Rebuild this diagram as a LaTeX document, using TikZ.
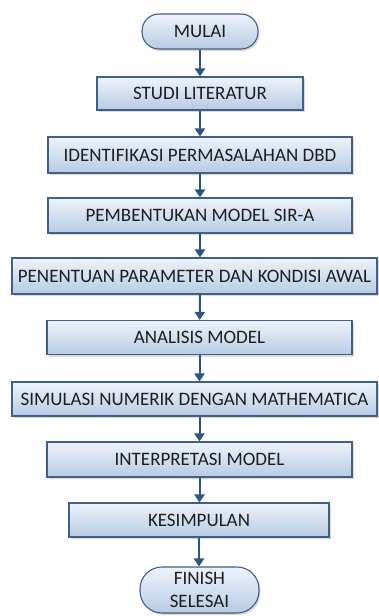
\documentclass[tikz,border=0pt]{standalone}
\usepackage{fontspec}
\setmainfont{Carlito}
\usepackage{tikz}
\usetikzlibrary{arrows.meta,shadows,positioning}
\definecolor{garis}{HTML}{425F86}
\definecolor{panah}{HTML}{2A5585}
\definecolor{atas}{HTML}{EEF3FA}
\definecolor{bawah}{HTML}{B7CBE3}
\definecolor{teks}{HTML}{1E1E1E}
\tikzset{%
	kotak/.style    = {draw=garis, line width=1.1pt, rectangle, top color=atas, bottom color=bawah, drop shadow={shadow xshift=1.5pt, shadow yshift=-2pt, opacity=0.25, fill=black!60}, text=teks, align=center, inner sep=0pt, font=\fontsize{19}{22}\selectfont},
	startstop/.style= {kotak, rounded corners=17pt},
	process/.style  = {kotak},
	arrow/.style    = {line width=2pt, draw=panah, -{Triangle[width=10pt,length=8pt]}},
}
\begin{document}
\begin{tikzpicture}[x=1pt,y=-1pt]
		\useasboundingbox (0,0) rectangle (379,616);
		\node[startstop, minimum width=116pt, minimum height=35pt] (mulai) at (200,31.5) {MULAI};
		\node[process, minimum width=206pt, minimum height=33pt] (studi) at (200,93.5) {STUDI LITERATUR};
		\node[process, minimum width=304pt, minimum height=36pt] (identifikasi) at (200,155) {IDENTIFIKASI PERMASALAHAN DBD};
		\node[process, minimum width=304pt, minimum height=35pt] (pembentukan) at (200,215.5) {PEMBENTUKAN MODEL SIR-A};
		\node[process, minimum width=365pt, minimum height=36pt] (penentuan) at (194.5,276) {PENENTUAN PARAMETER DAN KONDISI AWAL};
		\node[process, minimum width=305pt, minimum height=34pt] (analisis) at (199.5,337.5) {ANALISIS MODEL};
		\node[process, minimum width=365pt, minimum height=34pt] (simulasi) at (194.5,399) {SIMULASI NUMERIK DENGAN MATHEMATICA};
		\node[process, minimum width=305pt, minimum height=35pt] (interpretasi) at (199.5,459.5) {INTERPRETASI MODEL};
		\node[process, minimum width=260pt, minimum height=34pt] (kesimpulan) at (199,520) {KESIMPULAN};
		\node[startstop, rounded corners=22pt, minimum width=119pt, minimum height=46pt, font=\fontsize{19}{23}\selectfont] (selesai) at (199.5,590) {FINISH\\SELESAI};
		\draw[arrow] (mulai) -- (mulai |- studi.north);
		\draw[arrow] (studi) -- (studi |- identifikasi.north);
		\draw[arrow] (identifikasi) -- (identifikasi |- pembentukan.north);
		\draw[arrow] (pembentukan) -- (pembentukan |- penentuan.north);
		\draw[arrow] (pembentukan |- penentuan.south) -- (analisis);
		\draw[arrow] (analisis) -- (analisis |- simulasi.north);
		\draw[arrow] (analisis |- simulasi.south) -- (interpretasi);
		\draw[arrow] (interpretasi) -- (interpretasi |- kesimpulan.north);
		\draw[arrow] (kesimpulan) -- (kesimpulan |- selesai.north);
	\end{tikzpicture}
\end{document}
